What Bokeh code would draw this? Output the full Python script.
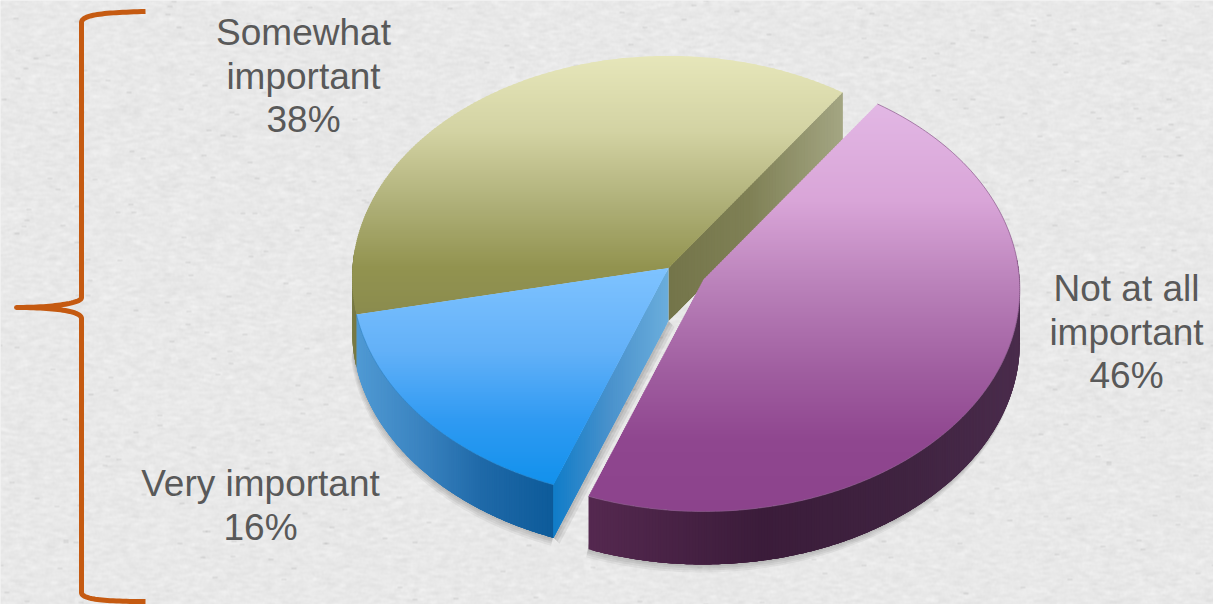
import numpy as np
from bokeh.embed import file_html
from bokeh.models import Range1d
from bokeh.plotting import figure
from bokeh.resources import INLINE

# Survey shares, in drawing order around the pie
categories = ["Somewhat important", "Very important", "Not at all important"]
shares = [38, 16, 46]
label_lines = [["Somewhat", "important", "38%"], ["Very important", "16%"], ["Not at all", "important", "46%"]]

W, H = 1213, 604
START_DEG = 55.2
HUB = (668.0, 267.5)
RX, RY, PERSP = 316.0, 221.6, 0.0447
DEPTH = 53.0
EXPLODE = (35.0, 11.5)

p = figure(width=W, height=H, output_backend="svg", toolbar_location=None,
           x_range=Range1d(0, W), y_range=Range1d(H, 0), min_border=0)
p.axis.visible = False
p.grid.visible = False
p.outline_line_color = None
p.background_fill_color = "#e9e9e9"
p.border_fill_color = "#e9e9e9"


def paper_texture():
    """Soft horizontal fibre grain with a few darker flecks for the backdrop."""
    rng = np.random.default_rng(11)
    n = rng.normal(size=(H, W))
    fine = sum(np.roll(n, k, axis=1) for k in range(-3, 4))
    fine = sum(np.roll(fine, k, axis=0) for k in range(-1, 2))
    fine = fine / fine.std()
    flecks = (rng.random((H, W)) > 0.9993).astype(float)
    flecks = sum(np.roll(flecks, k, axis=1) for k in range(-2, 3))
    flecks = flecks + np.roll(flecks, 1, axis=0)
    grey = np.clip(233 + 2.6 * fine - 14 * flecks, 190, 250).astype(np.uint32)
    return (255 << 24) | (grey << 16) | (grey << 8) | grey


p.image_rgba(image=[paper_texture()], x=0, y=0, dw=W, dh=H)


def hexmix(stops, t):
    """Interpolate a list of (position, '#rrggbb') colour stops."""
    t = min(max(t, stops[0][0]), stops[-1][0])
    for (a, ca), (b, cb) in zip(stops, stops[1:]):
        if t <= b:
            f = (t - a) / (b - a) if b > a else 0
            rgb = [round(int(ca[i:i + 2], 16) * (1 - f) + int(cb[i:i + 2], 16) * f) for i in (1, 3, 5)]
            return "#%02x%02x%02x" % tuple(rgb)
    return stops[-1][1]


def project(deg, hub):
    """Rim point of the tilted pie at an angle, with slight perspective."""
    th = np.radians(deg)
    w = 1 + PERSP * np.sin(th)
    return hub[0] + RX * np.cos(th) / w, hub[1] - RY * np.sin(th) / w


def clip_band(poly, y0, y1):
    """Clip a polygon to the horizontal band y0..y1."""
    def cut(pts, keep, y):
        out = []
        for i, a in enumerate(pts):
            b = pts[(i + 1) % len(pts)]
            if keep(a[1]):
                out.append(a)
            if keep(a[1]) != keep(b[1]):
                f = (y - a[1]) / (b[1] - a[1])
                out.append((a[0] + f * (b[0] - a[0]), y))
        return out
    pts = cut(poly, lambda v: v >= y0, y0)
    return cut(pts, lambda v: v <= y1, y1) if pts else []


def fill_vertical_gradient(poly, stops):
    """Paint a polygon as thin horizontal strips following the colour stops."""
    ys = [q[1] for q in poly]
    top, bot = min(ys), max(ys)
    xs_all, ys_all, cols = [], [], []
    y = top
    while y < bot:
        piece = clip_band(poly, y, y + 3.0)
        if len(piece) >= 3:
            xs_all.append([q[0] for q in piece])
            ys_all.append([q[1] for q in piece])
            cols.append(hexmix(stops, y + 1))
        y += 2.0
    p.patches(xs_all, ys_all, fill_color=cols, line_color=None)


def fill_rim_wall(a0, a1, hub, stops):
    """Outer wall of a slice: overlapping quads hanging from the rim, shaded left to right."""
    step = 0.5
    angles = np.arange(a0, a1 + step, step)
    angles[-1] = a1
    xs_all, ys_all, cols = [], [], []
    # Each quad runs on past its own step and the next paints over it, so no seams show
    for i in range(len(angles) - 1):
        span = angles[i:min(i + 5, len(angles))]
        rim = [project(a, hub) for a in span]
        xs_all.append([q[0] for q in rim] + [q[0] for q in rim[::-1]])
        ys_all.append([q[1] for q in rim] + [q[1] + DEPTH for q in rim[::-1]])
        cols.append(hexmix(stops, rim[0][0]))
    p.patches(xs_all, ys_all, fill_color=cols, line_color=None)


def fill_cut_face(end, stops, n=60):
    """Flat face along a slice's straight edge, shaded along its length."""
    xs_all, ys_all, cols = [], [], []
    for i in range(n):
        f0, f1 = i / n, min((i + 3) / n, 1.0)
        xa, ya = HUB[0] + f0 * (end[0] - HUB[0]), HUB[1] + f0 * (end[1] - HUB[1])
        xb, yb = HUB[0] + f1 * (end[0] - HUB[0]), HUB[1] + f1 * (end[1] - HUB[1])
        xs_all.append([xa, xb, xb, xa])
        ys_all.append([ya, yb, yb + DEPTH, ya + DEPTH])
        cols.append(hexmix(stops, f0))
    p.patches(xs_all, ys_all, fill_color=cols, line_color=None)


def rim_shadow(a0, a1, hub, alpha=0.05):
    """Soft drop shadow below a slice wall."""
    angles = np.linspace(a0, a1, 120)
    rim = [project(a, hub) for a in angles]
    for off in (2, 4, 6, 8):
        xs = [q[0] for q in rim] + [q[0] - off * 0.3 for q in rim[::-1]]
        ys = [q[1] + DEPTH - 5 for q in rim] + [q[1] + DEPTH + off for q in rim[::-1]]
        p.patch(xs, ys, fill_color="#000000", fill_alpha=alpha, line_color=None)


def top_face(a0, a1, hub):
    angles = np.linspace(a0, a1, 200)
    return [hub] + [project(a, hub) for a in angles]


# Slice boundaries from the shares; the pie runs counter-clockwise from START_DEG
sweeps = [s * 3.6 for s in shares]
olive_a0 = START_DEG
olive_a1 = olive_a0 + sweeps[0]
blue_a1 = olive_a1 + sweeps[1]
purple_a1 = blue_a1 + sweeps[2]
purple_hub = (HUB[0] + EXPLODE[0], HUB[1] + EXPLODE[1])

# Shadows go down first
rim_shadow(olive_a1 - 4, blue_a1, HUB)
rim_shadow(blue_a1, purple_a1 - 50, purple_hub)
cut_end = project(blue_a1, HUB)
for off in (2, 4, 6):
    p.patch([cut_end[0], HUB[0], HUB[0] + off, cut_end[0] + off],
            [cut_end[1] + DEPTH, HUB[1] + DEPTH, HUB[1] + DEPTH + off, cut_end[1] + DEPTH + off],
            fill_color="#000000", fill_alpha=0.07, line_color=None)

# Olive slice: rim wall on the left, cut face towards the gap
fill_rim_wall(175, olive_a1, HUB, [(350, "#7d7e48"), (362, "#70713f")])
fill_cut_face(project(olive_a0, HUB), [(0, "#74754a"), (0.45, "#7f8055"), (1, "#a4a683")])
fill_vertical_gradient(top_face(olive_a0, olive_a1, HUB),
                       [(55, "#e6e6ba"), (130, "#d3d3a3"), (200, "#b0b17a"), (267, "#92934f"), (316, "#8a8b4e")])

# Blue slice: outer wall, cut face on the right, then the top
fill_rim_wall(olive_a1, blue_a1, HUB,
              [(358, "#4f99d3"), (420, "#3a83c0"), (480, "#1f69a8"), (555, "#0c5a99")])
fill_cut_face(project(blue_a1, HUB), [(0, "#6aaddc"), (0.5, "#4a92cc"), (1, "#0f7cc8")])
blue_top = top_face(olive_a1, blue_a1, HUB)
fill_vertical_gradient(blue_top, [(267, "#7fc3ff"), (350, "#63b1f8"), (420, "#2f9af2"), (482, "#1291ec")])
p.line([q[0] for q in blue_top[1:]], [q[1] for q in blue_top[1:]], line_color="#2b7fbe", line_width=1, line_alpha=0.6)

# Purple slice sits pulled out from the hub
fill_rim_wall(blue_a1, purple_a1 - 50, purple_hub,
              [(592, "#54284f"), (760, "#3b1c3a"), (900, "#3f2340"), (1018, "#4a2c4c")])
purple_top = top_face(blue_a1, purple_a1, purple_hub)
fill_vertical_gradient(purple_top,
                       [(105, "#e2b7e4"), (200, "#d9a5d8"), (290, "#b87fb8"), (370, "#a05ea0"),
                        (440, "#8f468f"), (512, "#8c438c")])
p.line([q[0] for q in purple_top[1:]], [q[1] for q in purple_top[1:]], line_color="#8a5c8c", line_width=1, line_alpha=0.7)

# Labels, one text per line, centred beside each slice
label_pos = [(303, 32), (260, 483), (1126, 288)]
tx, ty, tt = [], [], []
for lines, (cx, cy) in zip(label_lines, label_pos):
    for i, line in enumerate(lines):
        tx.append(cx)
        ty.append(cy + i * 43.7)
        tt.append(line)
p.text(tx, ty, text=tt, text_font={"value": "Liberation Sans"}, text_font_size="37px",
       text_color="#595959", text_align="center", text_baseline="middle")


def cubic(a, c1, c2, b, n=30):
    t = np.linspace(0, 1, n)[:, None]
    pts = ((1 - t) ** 3) * np.array(a) + 3 * ((1 - t) ** 2) * t * np.array(c1) \
        + 3 * (1 - t) * t ** 2 * np.array(c2) + t ** 3 * np.array(b)
    return pts.tolist()


# Curly brace down the left edge
brace = (cubic((145, 11), (105, 12), (81, 14), (81, 22))
         + cubic((81, 297), (81, 303), (50, 307), (16, 307))
         + cubic((16, 307), (50, 307), (81, 310), (81, 318))
         + cubic((81, 592), (81, 599), (105, 601), (145, 601)))
p.line([q[0] for q in brace], [q[1] for q in brace], line_color="#c55a11", line_width=5, line_join="round")

open("out.html", "w").write(file_html(p, INLINE))
